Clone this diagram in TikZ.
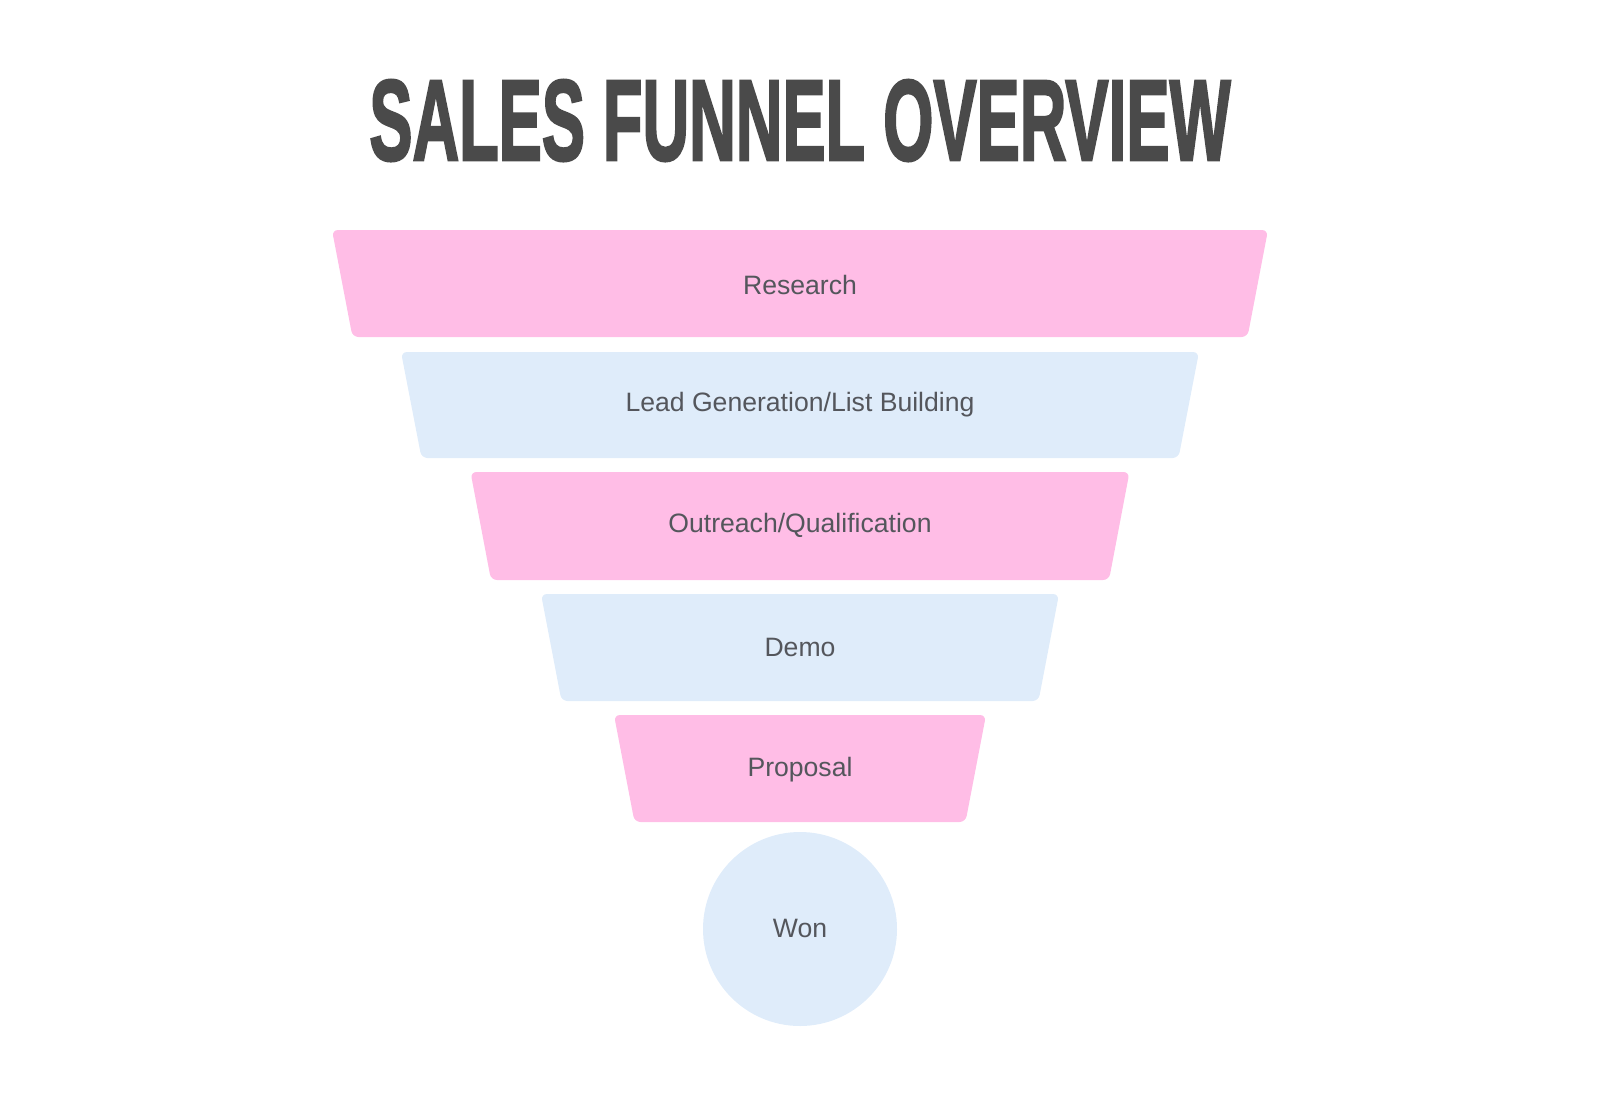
\documentclass[tikz,border=0pt]{standalone}
\usepackage{fontspec}
\usepackage{graphicx}
\setmainfont{Liberation Sans}
\newfontfamily\titlefont[FakeBold=2.5]{Liberation Sans Bold}
\definecolor{funpink}{RGB}{255,189,230}
\definecolor{funblue}{RGB}{223,236,250}
\definecolor{labgray}{RGB}{84,86,92}
\definecolor{titlegray}{RGB}{74,74,74}
\tikzset{
  label text/.style={text=labgray, font=\fontsize{26.6}{31}\selectfont, inner sep=0pt},
  stage/.style={rounded corners=6pt, draw=none}
}
\newcommand{\funstage}[5]{% name, top y, top half width, height, color
  \fill[stage, fill=#5] (800-#3,#2) -- (800+#3,#2) -- (800+#3-20.5,#2+#4) -- (800-#3+20.5,#2+#4) -- cycle;
}
\begin{document}
\begin{tikzpicture}[x=1pt,y=-1pt]
\useasboundingbox (0,0) rectangle (1600,1113);
\node[anchor=base, inner sep=0pt, text=titlegray] (title) at (800,160) {\resizebox{861pt}{80pt}{\titlefont SALES FUNNEL OVERVIEW}};
\funstage{research}{230}{468}{107}{funpink}
\funstage{lead}{352}{399}{106}{funblue}
\funstage{outreach}{472}{329.5}{108}{funpink}
\funstage{demo}{594}{259}{107}{funblue}
\funstage{proposal}{715}{186}{107}{funpink}
\fill[funblue] (800,929) circle (97);
\node[label text] (research) at (800,285) {Research};
\node[label text] (lead) at (800,405) {Lead Generation/List Building};
\node[label text] (outreach) at (800,525) {Outreach/Qualification};
\node[label text] (demo) at (800,647) {Demo};
\node[label text] (proposal) at (800,770) {Proposal};
\node[label text] (won) at (800,928) {Won};
\end{tikzpicture}
\end{document}
